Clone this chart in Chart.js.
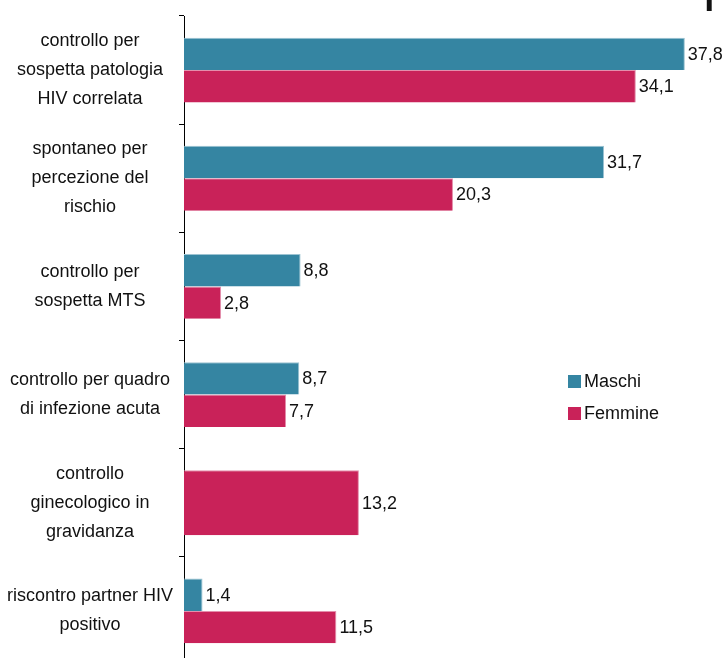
<!DOCTYPE html>
<html lang="it">
<head>
<meta charset="UTF-8">
<title>Motivo del test</title>
<script src="https://cdn.jsdelivr.net/npm/chart.js"></script>
<style>
  html, body {
    margin: 0;
    padding: 0;
    background: #ffffff;
    overflow: hidden;
  }
  #wrap {
    position: relative;
    width: 725px;
    height: 665px;
  }
  #legend {
    position: absolute;
    left: 568px;
    top: 365px;
    font-family: 'Liberation Sans', Arial, sans-serif;
    font-size: 18px;
    color: #111;
  }
  #legend div {
    display: flex;
    align-items: center;
    height: 32px;
  }
  #legend span.box {
    display: inline-block;
    width: 13px;
    height: 13px;
    margin-right: 3px;
  }
</style>
</head>
<body>
<div id="wrap">
  <canvas id="chart"></canvas>
  <div id="legend"></div>
</div>
<script>
// data
const categories = [
  ['controllo per', 'sospetta patologia', 'HIV correlata'],
  ['spontaneo per', 'percezione del', 'rischio'],
  ['controllo per', 'sospetta MTS'],
  ['controllo per quadro', 'di infezione acuta'],
  ['controllo', 'ginecologico in', 'gravidanza'],
  ['riscontro partner HIV', 'positivo']
];
const maschi = [37.8, 31.7, 8.8, 8.7, null, 1.4];
const femmine = [34.1, 20.3, 2.8, 7.7, 13.2, 11.5];
const seriesNames = ['Maschi', 'Femmine'];
const colors = ['#3585a2', '#c92259'];

const FONT = "'Liberation Sans', Arial, sans-serif";

// value labels at the end of each bar
const valueLabels = {
  id: 'valueLabels',
  afterDatasetsDraw(chart) {
    const ctx = chart.ctx;
    ctx.save();
    ctx.font = '18px ' + FONT;
    ctx.fillStyle = '#111';
    ctx.textBaseline = 'middle';
    ctx.textAlign = 'left';
    chart.data.datasets.forEach((ds, i) => {
      chart.getDatasetMeta(i).data.forEach((bar, j) => {
        const v = ds.data[j];
        if (v == null) return;
        ctx.fillText(v.toFixed(1).replace('.', ','), bar.x + 3, bar.y + 1);
      });
    });
    // cut-off title glyph at the top right
    ctx.font = '56px ' + FONT;
    ctx.textBaseline = 'alphabetic';
    ctx.fillText('p', 703, -1);
    ctx.restore();
  }
};

const chart = new Chart(document.getElementById('chart'), {
  type: 'bar',
  data: {
    labels: categories,
    datasets: [
      { label: seriesNames[0], data: maschi, backgroundColor: colors[0], borderColor: '#9cc3d2', borderWidth: { top: 1, right: 1, bottom: 0, left: 0 } },
      { label: seriesNames[1], data: femmine, backgroundColor: colors[1], borderColor: '#e48fac', borderWidth: { top: 1, right: 1, bottom: 0, left: 0 } }
    ]
  },
  options: {
    indexAxis: 'y',
    responsive: true,
    maintainAspectRatio: false,
    animation: false,
    layout: { padding: { top: 16, right: 11, bottom: 0, left: 0 } },
    datasets: {
      bar: { categoryPercentage: 0.6, barPercentage: 1.0, skipNull: true }
    },
    scales: {
      x: {
        display: false,
        min: 0,
        max: 40
      },
      y: {
        afterFit(scale) {
          scale.width = 184;
          scale.paddingTop = 0;
          scale.paddingBottom = 0;
        },
        border: { display: true, color: '#000', width: 1 },
        grid: {
          offset: true,
          drawOnChartArea: false,
          drawTicks: true,
          tickLength: 5,
          color: '#000'
        },
        ticks: {
          color: '#111',
          font: { family: FONT, size: 18, lineHeight: 1.62 },
          crossAlign: 'center',
          padding: 6
        }
      }
    },
    plugins: {
      legend: { display: false },
      tooltip: { enabled: false }
    }
  },
  plugins: [valueLabels]
});

// legend
const legend = document.getElementById('legend');
chart.data.datasets.forEach(ds => {
  const row = document.createElement('div');
  const box = document.createElement('span');
  box.className = 'box';
  box.style.background = ds.backgroundColor;
  row.appendChild(box);
  row.appendChild(document.createTextNode(ds.label));
  legend.appendChild(row);
});
</script>
</body>
</html>
